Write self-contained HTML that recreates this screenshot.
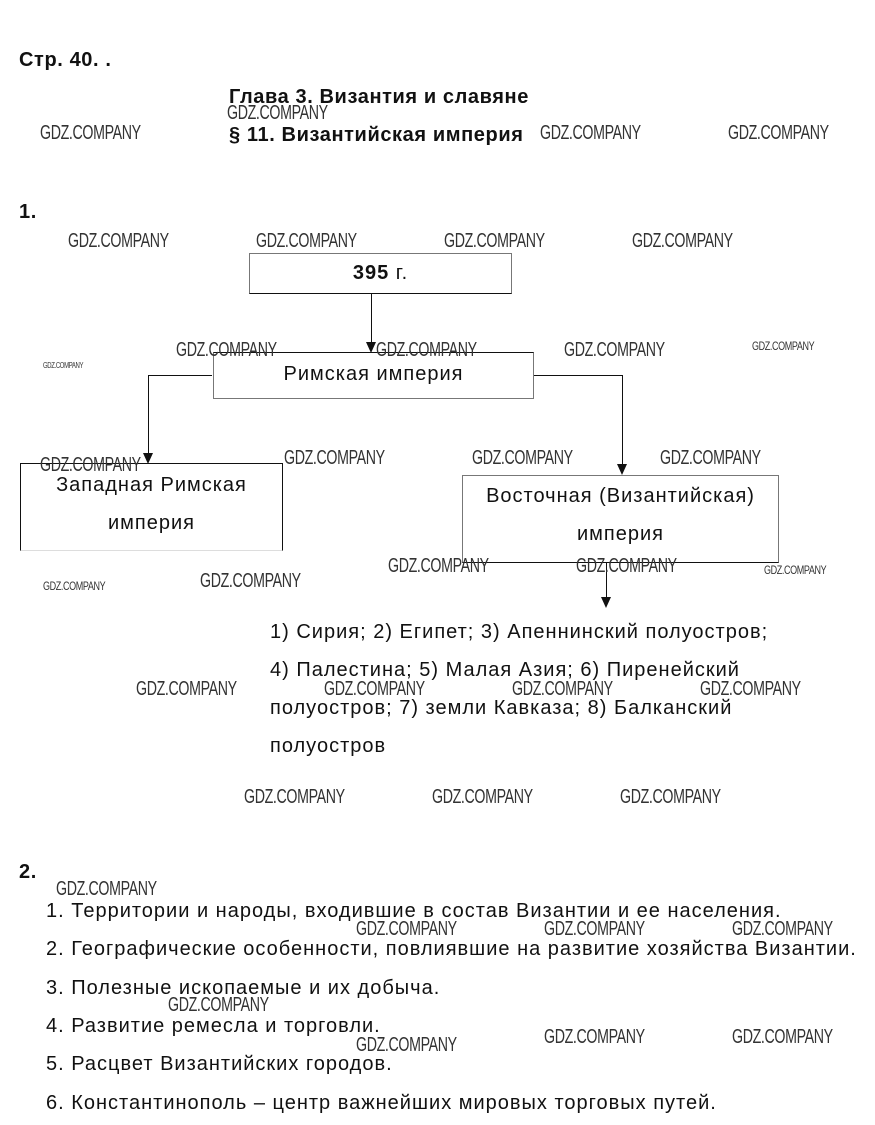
<!DOCTYPE html>
<html><head><meta charset="utf-8"><style>
body{margin:0;width:875px;height:1125px;background:#fff;position:relative;overflow:hidden;font-family:"Liberation Sans",sans-serif;color:#111}
.t{position:absolute;font-size:20px;letter-spacing:1px;white-space:nowrap;line-height:20px}
.b{font-weight:bold;letter-spacing:0.6px}
.w{position:absolute;font-family:"Liberation Sans Narrow","Liberation Sans",sans-serif;font-size:20px;color:#333;white-space:nowrap;transform-origin:0 0;transform:scaleX(0.71);line-height:20px;letter-spacing:-0.5px}
.s{font-size:12px;line-height:12px;transform:scaleX(0.75)}
.bx{position:absolute;border:1px solid #777;box-sizing:border-box}
.ln{position:absolute;background:#111}
.ar{position:absolute;width:0;height:0;border-left:5px solid transparent;border-right:5px solid transparent;border-top:11px solid #111}
</style></head><body>
<div class="t b" style="left:19px;top:50px">Стр. 40. .</div>
<div class="t b" style="left:229px;top:87px">Глава 3. Византия и славяне</div>
<div class="t b" style="left:229px;top:125px">§ 11. Византийская империя</div>
<div class="t b" style="left:19px;top:202px">1.</div>

<div class="bx" style="left:249px;top:253px;width:263px;height:41px;border-bottom-color:#111"></div>
<div class="t" style="left:249px;top:263px;width:263px;text-align:center"><b>395</b> г.</div>
<div class="ln" style="left:371px;top:293px;width:1px;height:50px"></div>
<div class="ar" style="left:366px;top:342px"></div>

<div class="bx" style="left:213px;top:352px;width:321px;height:47px;border-top-color:#111"></div>
<div class="t" style="left:213px;top:364px;width:321px;text-align:center">Римская империя</div>

<div class="ln" style="left:148px;top:375px;width:64px;height:1px"></div>
<div class="ln" style="left:148px;top:375px;width:1px;height:79px"></div>
<div class="ar" style="left:143px;top:453px"></div>
<div class="ln" style="left:534px;top:375px;width:89px;height:1px"></div>
<div class="ln" style="left:622px;top:375px;width:1px;height:90px"></div>
<div class="ar" style="left:617px;top:464px"></div>

<div class="bx" style="left:20px;top:463px;width:263px;height:88px;border-color:#111;border-bottom-color:#ddd"></div>
<div class="t" style="left:20px;top:475px;width:263px;text-align:center">Западная Римская</div>
<div class="t" style="left:20px;top:513px;width:263px;text-align:center">империя</div>

<div class="bx" style="left:462px;top:475px;width:317px;height:88px;border-bottom-color:#111"></div>
<div class="t" style="left:462px;top:486px;width:317px;text-align:center">Восточная (Византийская)</div>
<div class="t" style="left:462px;top:524px;width:317px;text-align:center">империя</div>
<div class="ln" style="left:606px;top:562px;width:1px;height:37px"></div>
<div class="ar" style="left:601px;top:597px"></div>

<div class="t" style="left:270px;top:622px">1) Сирия; 2) Египет; 3) Апеннинский полуостров;</div>
<div class="t" style="left:270px;top:660px">4) Палестина; 5) Малая Азия; 6) Пиренейский</div>
<div class="t" style="left:270px;top:698px">полуостров; 7) земли Кавказа; 8) Балканский</div>
<div class="t" style="left:270px;top:736px">полуостров</div>

<div class="t b" style="left:19px;top:862px">2.</div>
<div class="t" style="left:46px;top:901px">1. Территории и народы, входившие в состав Византии и ее населения.</div>
<div class="t" style="left:46px;top:939px">2. Географические особенности, повлиявшие на развитие хозяйства Византии.</div>
<div class="t" style="left:46px;top:978px">3. Полезные ископаемые и их добыча.</div>
<div class="t" style="left:46px;top:1016px">4. Развитие ремесла и торговли.</div>
<div class="t" style="left:46px;top:1054px">5. Расцвет Византийских городов.</div>
<div class="t" style="left:46px;top:1093px">6. Константинополь – центр важнейших мировых торговых путей.</div>

<div class="w" style="left:40px;top:123px">GDZ.COMPANY</div>
<div class="w" style="left:227px;top:103px">GDZ.COMPANY</div>
<div class="w" style="left:540px;top:123px">GDZ.COMPANY</div>
<div class="w" style="left:728px;top:123px">GDZ.COMPANY</div>
<div class="w" style="left:68px;top:231px">GDZ.COMPANY</div>
<div class="w" style="left:256px;top:231px">GDZ.COMPANY</div>
<div class="w" style="left:444px;top:231px">GDZ.COMPANY</div>
<div class="w" style="left:632px;top:231px">GDZ.COMPANY</div>
<div class="w" style="left:176px;top:340px">GDZ.COMPANY</div>
<div class="w" style="left:376px;top:340px">GDZ.COMPANY</div>
<div class="w" style="left:564px;top:340px">GDZ.COMPANY</div>
<div class="w s" style="left:752px;top:340px">GDZ.COMPANY</div>
<div class="w s" style="left:43px;top:360px;font-size:8px">GDZ.COMPANY</div>
<div class="w" style="left:40px;top:455px">GDZ.COMPANY</div>
<div class="w" style="left:284px;top:448px">GDZ.COMPANY</div>
<div class="w" style="left:472px;top:448px">GDZ.COMPANY</div>
<div class="w" style="left:660px;top:448px">GDZ.COMPANY</div>
<div class="w" style="left:388px;top:556px">GDZ.COMPANY</div>
<div class="w" style="left:576px;top:556px">GDZ.COMPANY</div>
<div class="w s" style="left:764px;top:564px">GDZ.COMPANY</div>
<div class="w" style="left:200px;top:571px">GDZ.COMPANY</div>
<div class="w s" style="left:43px;top:580px">GDZ.COMPANY</div>
<div class="w" style="left:136px;top:679px">GDZ.COMPANY</div>
<div class="w" style="left:324px;top:679px">GDZ.COMPANY</div>
<div class="w" style="left:512px;top:679px">GDZ.COMPANY</div>
<div class="w" style="left:700px;top:679px">GDZ.COMPANY</div>
<div class="w" style="left:244px;top:787px">GDZ.COMPANY</div>
<div class="w" style="left:432px;top:787px">GDZ.COMPANY</div>
<div class="w" style="left:620px;top:787px">GDZ.COMPANY</div>
<div class="w" style="left:56px;top:879px">GDZ.COMPANY</div>
<div class="w" style="left:356px;top:919px">GDZ.COMPANY</div>
<div class="w" style="left:544px;top:919px">GDZ.COMPANY</div>
<div class="w" style="left:732px;top:919px">GDZ.COMPANY</div>
<div class="w" style="left:168px;top:995px">GDZ.COMPANY</div>
<div class="w" style="left:544px;top:1027px">GDZ.COMPANY</div>
<div class="w" style="left:732px;top:1027px">GDZ.COMPANY</div>
<div class="w" style="left:356px;top:1035px">GDZ.COMPANY</div>
</body></html>
